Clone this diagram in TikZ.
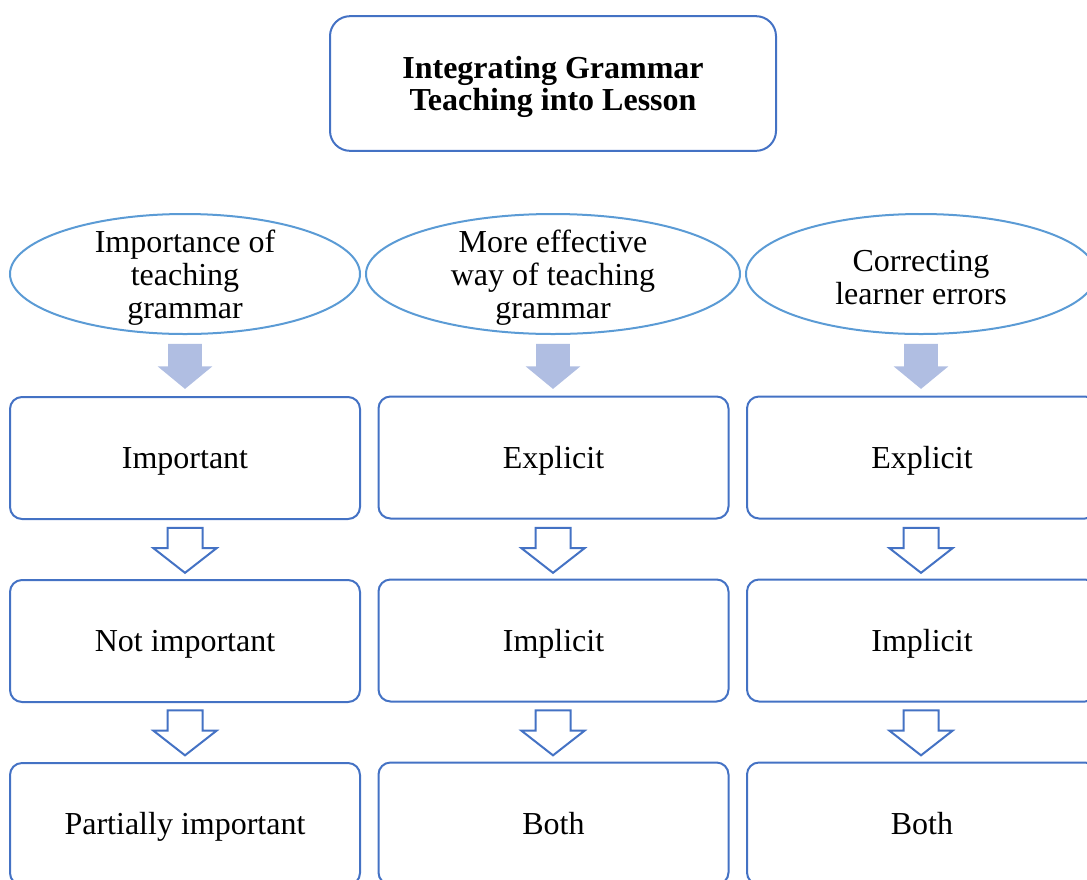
\documentclass[tikz,border=0pt]{standalone}
\usepackage{fontspec}
\setmainfont{Liberation Serif}
\usepackage{tikz}
\usetikzlibrary{shapes.geometric}
\usetikzlibrary{shapes.arrows}
\definecolor{boxblue}{HTML}{4472C4}
\definecolor{ovalblue}{HTML}{5B9BD5}
\definecolor{arrowfill}{HTML}{B0BEE2}

\begin{document}
\begin{tikzpicture}[x=0.75pt, y=-0.75pt,
        every node/.style={font=\fontsize{24}{24.75}\selectfont, align=center},
        headbox/.style={draw=boxblue, line width=1.5pt, rounded corners=15pt, minimum width=334.5pt, minimum height=101pt},
        headtext/.style={font=\fontsize{24}{24}\selectfont\bfseries, yshift=-2.5pt},
        question/.style={shape=ellipse, draw=ovalblue, line width=1.5pt, inner sep=0pt, minimum width=262.5pt, minimum height=90pt},
        qtext/.style={yshift=-3pt},
        answer/.style={draw=boxblue, line width=1.5pt, rounded corners=9pt, minimum width=262.5pt, minimum height=91.5pt, text height=16pt, text depth=0pt},
        fillarrow/.style={shape=single arrow, rotate=-90, fill=arrowfill, inner xsep=0pt, inner ysep=12.375pt, minimum height=33.75pt, single arrow head extend=7.875pt, single arrow tip angle=101},
        openarrow/.style={shape=single arrow, rotate=-90, draw=boxblue, fill=white, line width=1.5pt, inner xsep=0pt, inner ysep=12.375pt, minimum height=33.75pt, single arrow head extend=10.5pt, single arrow tip angle=104}]
        \path[use as bounding box, clip] (0,0) rectangle (1087,879);

        % heading
        \node (title) at (553,83.5) [headbox] {};
        \node (titletext) at (title) [headtext] {Integrating Grammar\\Teaching into Lesson};

        % questions
        \node (q1) at (185,274) [question] {};
        \node (q2) at (553,274) [question, minimum width=280.5pt] {};
        \node (q3) at (921,274) [question] {};
        \node (q1text) at (q1) [qtext] {Importance of\\teaching\\grammar};
        \node (q2text) at (q2) [qtext] {More effective\\way of teaching\\grammar};
        \node (q3text) at (q3) [qtext] {Correcting\\learner errors};

        \node (f1) at (185,359.5) [fillarrow] {};
        \node (f2) at (553,359.5) [fillarrow] {};
        \node (f3) at (921,359.5) [fillarrow] {};

        % answers
        \node (imp) at (185,458) [answer] {Important};
        \node (notimp) at (185,641) [answer] {Not important};
        \node (partimp) at (185,824) [answer] {Partially important};

        \node (expl2) at (553.5,457.5) [answer] {Explicit};
        \node (impl2) at (553.5,640.5) [answer] {Implicit};
        \node (both2) at (553.5,823.5) [answer] {Both};

        \node (expl3) at (922,457.5) [answer] {Explicit};
        \node (impl3) at (922,640.5) [answer] {Implicit};
        \node (both3) at (922,823.5) [answer] {Both};

        \node (o1a) at (185,543.5) [openarrow] {};
        \node (o1b) at (185,726) [openarrow] {};
        \node (o2a) at (553,543.5) [openarrow] {};
        \node (o2b) at (553,726) [openarrow] {};
        \node (o3a) at (921,543.5) [openarrow] {};
        \node (o3b) at (921,726) [openarrow] {};
    \end{tikzpicture}
\end{document}
